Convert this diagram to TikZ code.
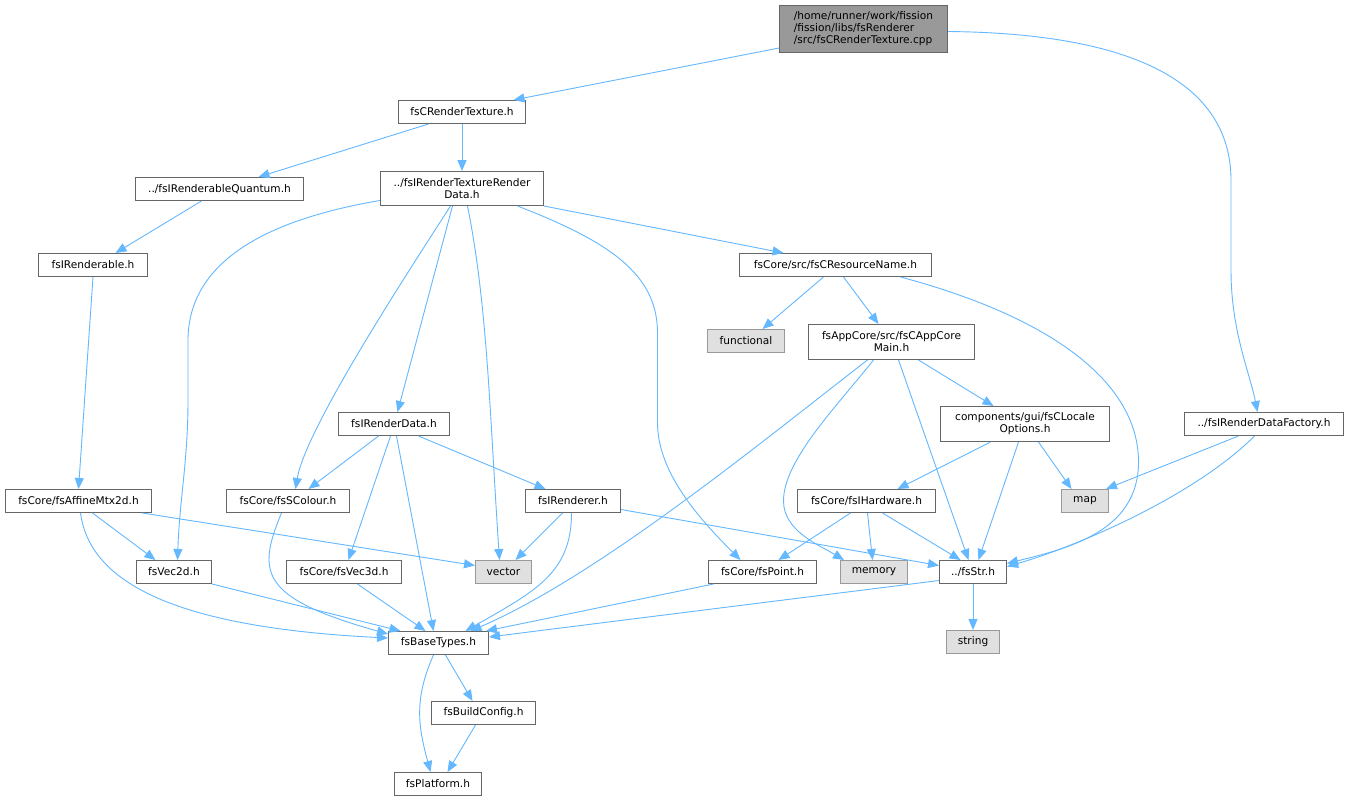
\documentclass[tikz,border=0pt]{standalone}
\usepackage{fontspec}
\setmainfont{DejaVu Sans}
\usetikzlibrary{arrows.meta}
\definecolor{edgeblue}{HTML}{63B8FF}
\definecolor{boxgray}{HTML}{666666}
\definecolor{rootfill}{HTML}{999999}
\definecolor{sysfill}{HTML}{E0E0E0}
\definecolor{sysborder}{HTML}{999999}
\begin{document}
\begin{tikzpicture}[x=1pt,y=-1pt,
  hdr/.style={draw=boxgray,line width=1pt,fill=white,anchor=north west,inner sep=2pt,align=center,font=\fontsize{10.6}{12}\selectfont},
  sys/.style={hdr,draw=sysborder,fill=sysfill},
  dep/.style={draw=edgeblue,line width=0.9pt,-{Triangle[length=11pt,width=9pt]}}]
\fill[white] (0,0) rectangle (1348,800);
\node[hdr,fill=rootfill,align=left,minimum width=168,minimum height=47] (root) at (779,5) {/home/runner/work/fission\\/fission/libs/fsRenderer\\/src/fsCRenderTexture.cpp};
\node[hdr,minimum width=127,minimum height=23] (crt) at (398,100) {fsCRenderTexture.h};
\node[hdr,minimum width=168,minimum height=23] (rq) at (135,177) {../fsIRenderableQuantum.h};
\node[hdr,minimum width=163,minimum height=34] (rtrd) at (380,171) {../fsIRenderTextureRender\\Data.h};
\node[hdr,minimum width=109,minimum height=23] (rbl) at (38,253) {fsIRenderable.h};
\node[hdr,minimum width=192,minimum height=23] (rname) at (739,253) {fsCore/src/fsCResourceName.h};
\node[sys,minimum width=77,minimum height=23] (functional) at (707,329) {functional};
\node[hdr,minimum width=166,minimum height=35] (appmain) at (808,324) {fsAppCore/src/fsCAppCore\\Main.h};
\node[hdr,minimum width=111,minimum height=23] (rdata) at (338,412) {fsIRenderData.h};
\node[hdr,minimum width=169,minimum height=35] (locale) at (940,406) {components/gui/fsCLocale\\Options.h};
\node[hdr,minimum width=159,minimum height=23] (factory) at (1184,412) {../fsIRenderDataFactory.h};
\node[hdr,minimum width=146,minimum height=23] (affine) at (5,489) {fsCore/fsAffineMtx2d.h};
\node[hdr,minimum width=123,minimum height=23] (colour) at (226,489) {fsCore/fsSColour.h};
\node[hdr,minimum width=95,minimum height=23] (renderer) at (525,489) {fsIRenderer.h};
\node[hdr,minimum width=138,minimum height=23] (hardware) at (797,489) {fsCore/fsIHardware.h};
\node[sys,minimum width=47,minimum height=23] (map) at (1061,489) {map};
\node[sys,minimum width=56,minimum height=23] (vector) at (475,560) {vector};
\node[hdr,minimum width=75,minimum height=23] (vec2d) at (136,560) {fsVec2d.h};
\node[hdr,minimum width=115,minimum height=23] (vec3d) at (286,560) {fsCore/fsVec3d.h};
\node[hdr,minimum width=108,minimum height=23] (point) at (708,560) {fsCore/fsPoint.h};
\node[sys,minimum width=67,minimum height=23] (memory) at (840,560) {memory};
\node[hdr,minimum width=67,minimum height=23] (str) at (939,560) {../fsStr.h};
\node[hdr,minimum width=100,minimum height=23] (base) at (388,631) {fsBaseTypes.h};
\node[sys,minimum width=53,minimum height=23] (string) at (946,630) {string};
\node[hdr,minimum width=104,minimum height=23] (build) at (431,701) {fsBuildConfig.h};
\node[hdr,minimum width=87,minimum height=23] (platform) at (394,772) {fsPlatform.h};
\draw[dep] ([yshift=5]root.south west) -- ([xshift=51.5]crt.north);
\draw[dep] ([yshift=-2.5]root.east) .. controls +(200,2) and +(0,-90) .. ++(283,149) -- ++(0,90) .. controls +(0,60) and +(-8,-40) .. ([xshift=-6.5]factory.north);
\draw[dep] ([xshift=-33.5]crt.south) -- ([xshift=39]rq.north);
\draw[dep] (crt.south) -- (rtrd.north);
\draw[dep] ([xshift=-18]rq.south) -- ([xshift=22.5]rbl.north);
\draw[dep] (rbl.south) -- (affine.north);
\draw[dep] ([yshift=-12]rtrd.west) .. controls +(-130,22) and +(0,-70) .. ++(-192,140) -- ++(0,60) .. controls +(0,60) and +(2,-60) .. ([xshift=3.5]vec2d.north);
\draw[dep] ([xshift=-11.5]rtrd.south) .. controls +(-45,70) and +(10,-60) .. ([xshift=7.5]colour.north);
\draw[dep] ([xshift=-9.5]rtrd.south) -- ([xshift=3.5]rdata.north);
\draw[dep] ([xshift=5.5]rtrd.south) .. controls +(20,100) and +(-10,-150) .. ([xshift=-4]vector.north);
\draw[dep] ([xshift=55.5]rtrd.south) .. controls +(90,35) and +(0,-60) .. ++(140,127) -- ++(0,90) .. controls +(0,50) and +(-40,-40) .. ([xshift=-22]point.north);
\draw[dep] (rtrd.south east) -- ([xshift=-52]rname.north);
\draw[dep] ([xshift=-12]rname.south) -- ([xshift=16.5]functional.north);
\draw[dep] ([xshift=8]rname.south) -- ([xshift=-13]appmain.north);
\draw[dep] ([xshift=65]rname.south) .. controls +(150,40) and +(0,-80) .. ++(238,185) .. controls +(0,70) and +(60,-15) .. ([yshift=8.5]str.east);
\draw[dep] ([xshift=-24]appmain.south) .. controls +(-100,77) and +(130,-56) .. ([xshift=32]base.north);
\draw[dep] ([xshift=-18]appmain.south) .. controls +(-40,50) and +(0,-40) .. ++(-90,141) .. controls +(0,30) and +(-25,-15) .. ([xshift=-30]memory.north);
\draw[dep] ([xshift=7]appmain.south) -- ([xshift=-4.5]str.north);
\draw[dep] ([xshift=27]appmain.south) -- ([xshift=-31.5]locale.north);
\draw[dep] ([xshift=-34.5]locale.south) -- ([xshift=31]hardware.north);
\draw[dep] ([xshift=-6.5]locale.south) -- ([xshift=5.5]str.north);
\draw[dep] ([xshift=13.5]locale.south) -- ([xshift=-13.5]map.north);
\draw[dep] ([xshift=-25.5]factory.south) -- ([xshift=-3]map.north east);
\draw[dep] ([xshift=-9.5]factory.south) .. controls +(-60,60) and +(70,-20) .. ([yshift=5.5]str.east);
\draw[dep] ([xshift=-15.5]rdata.south) -- ([xshift=20.5]colour.north);
\draw[dep] ([xshift=-3.5]rdata.south) -- ([xshift=4.5]vec3d.north);
\draw[dep] ([xshift=2.5]rdata.south) -- ([xshift=-5]base.north);
\draw[dep] ([xshift=24.5]rdata.south) -- ([xshift=-27.5]renderer.north);
\draw[dep] ([xshift=14]affine.south) -- ([xshift=-18.5]vec2d.north);
\draw[dep] ([xshift=64]affine.south) -- ([yshift=6.5]vector.west);
\draw[dep] ([xshift=2]affine.south) .. controls +(10,75) and +(-200,-10) .. ([yshift=5]base.west);
\draw[dep] ([xshift=-6.5]colour.south) .. controls +(-25,60) and +(-128,-36) .. ([yshift=-3]base.north west);
\draw[dep] (vec2d.south east) -- ([xshift=-38]base.north);
\draw[dep] ([xshift=13.5]vec3d.south) -- ([xshift=-13]base.north);
\draw[dep] ([xshift=-10.5]renderer.south) -- ([xshift=12]vector.north);
\draw[dep] ([xshift=-1.5]renderer.south) .. controls +(0,60) and +(70,-40) .. ([xshift=27]base.north);
\draw[dep] ([yshift=-8.5]renderer.east) -- ([yshift=6.5]str.west);
\draw[dep] ([xshift=-16]hardware.south) -- ([xshift=16]point.north);
\draw[dep] ([xshift=1]hardware.south) -- ([xshift=-1.5]memory.north);
\draw[dep] ([xshift=16]hardware.south) -- ([xshift=-12.5]str.north);
\draw[dep] ([xshift=-49]point.south) -- ([xshift=-3]base.north east);
\draw[dep] ([yshift=-8.5]str.west) -- ([yshift=6]base.east);
\draw[dep] (str.south) -- (string.north);
\draw[dep] ([xshift=7]base.south) -- ([xshift=-11]build.north);
\draw[dep] ([xshift=-5]base.south) .. controls +(-20,45) and +(-12,-45) .. ([xshift=-7.5]platform.north);
\draw[dep] ([xshift=-8]build.south) -- ([xshift=9.5]platform.north);
\end{tikzpicture}
\end{document}
